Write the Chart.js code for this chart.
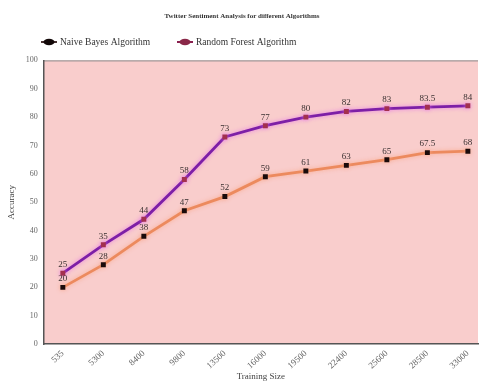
<!DOCTYPE html>
<html>
<head>
<meta charset="utf-8">
<script src="https://cdn.jsdelivr.net/npm/chart.js@4/dist/chart.umd.min.js"></script>
<style>
  html, body { margin: 0; padding: 0; background: #ffffff; }
  #wrap { width: 483px; height: 387px; position: relative; }
</style>
</head>
<body>
<div id="wrap"><canvas id="c" width="483" height="387"></canvas></div>
<script>
// Training sizes (x categories) and accuracy of each algorithm
const trainingSizes = ["535", "5300", "8400", "9800", "13500", "16000", "19500", "22400", "25600", "28500", "33000"];
const naiveBayes = [20, 28, 38, 47, 52, 59, 61, 63, 65, 67.5, 68];
const randomForest = [25, 35, 44, 58, 73, 77, 80, 82, 83, 83.5, 84];
const accuracyTicks = [0, 10, 20, 30, 40, 50, 60, 70, 80, 90, 100];

const SERIF = "'Liberation Serif', 'DejaVu Serif', serif";

// pink plotting area
const plotBackground = {
  id: 'plotBackground',
  beforeDraw(chart) {
    const { ctx, chartArea: a } = chart;
    ctx.save();
    ctx.fillStyle = '#f9cdcc';
    ctx.fillRect(a.left, a.top, a.right - a.left, a.bottom - a.top);
    ctx.strokeStyle = '#8a8a8a';
    ctx.lineWidth = 1;
    ctx.beginPath();
    ctx.moveTo(a.left, a.top + 0.5);
    ctx.lineTo(a.right, a.top + 0.5);
    ctx.stroke();
    ctx.restore();
  }
};

// legend row under the title
const legendRow = {
  id: 'legendRow',
  afterDraw(chart) {
    const { ctx } = chart;
    const items = [
      { x: 41, ds: 0, dot: '#120808', line: '#4a3434' },
      { x: 177, ds: 1, dot: '#8a2848', line: '#8a2050' }
    ];
    const y = 42;
    ctx.save();
    ctx.font = "9.5px " + SERIF;
    ctx.textBaseline = 'middle';
    items.forEach(it => {
      ctx.strokeStyle = it.line;
      ctx.lineWidth = 2;
      ctx.beginPath();
      ctx.moveTo(it.x, y);
      ctx.lineTo(it.x + 16, y);
      ctx.stroke();
      ctx.fillStyle = it.dot;
      ctx.beginPath();
      ctx.ellipse(it.x + 8, y, 5.5, 3.2, 0, 0, Math.PI * 2);
      ctx.fill();
      ctx.fillStyle = '#333333';
      ctx.fillText(chart.data.datasets[it.ds].label, it.x + 19, y);
    });
    ctx.restore();
  }
};

// value labels above each point
const valueLabels = {
  id: 'valueLabels',
  afterDatasetsDraw(chart) {
    const { ctx } = chart;
    ctx.save();
    ctx.font = "9px " + SERIF;
    ctx.fillStyle = '#3a3030';
    ctx.textAlign = 'center';
    ctx.textBaseline = 'bottom';
    chart.data.datasets.forEach((ds, di) => {
      const meta = chart.getDatasetMeta(di);
      meta.data.forEach((pt, i) => {
        ctx.fillText(String(ds.data[i].y), pt.x, pt.y - 4);
      });
    });
    ctx.restore();
  }
};

// glow under the lines
const lineGlow = {
  id: 'lineGlow',
  beforeDatasetDraw(chart, args) {
    const ctx = chart.ctx;
    ctx.save();
    ctx.shadowColor = args.index === 1 ? 'rgba(230,120,230,0.9)' : 'rgba(250,170,140,0.9)';
    ctx.shadowBlur = 4;
  },
  afterDatasetDraw(chart) {
    chart.ctx.restore();
  }
};

const toPoints = arr => arr.map((v, i) => ({ x: i, y: v }));

new Chart(document.getElementById('c'), {
  type: 'line',
  data: {
    datasets: [
      {
        label: 'Naive Bayes Algorithm',
        data: toPoints(naiveBayes),
        borderColor: '#ec8a5e',
        borderWidth: 2.8,
        pointStyle: 'rect',
        pointRadius: 3.5,
        pointBackgroundColor: '#1a0a0a',
        pointBorderColor: '#1a0a0a',
        pointBorderWidth: 0,
        tension: 0
      },
      {
        label: 'Random Forest Algorithm',
        data: toPoints(randomForest),
        borderColor: '#7d1fa6',
        borderWidth: 2.8,
        pointStyle: 'rect',
        pointRadius: 3.5,
        pointBackgroundColor: '#a3304e',
        pointBorderColor: '#a3304e',
        pointBorderWidth: 0,
        tension: 0
      }
    ]
  },
  options: {
    responsive: false,
    animation: false,
    devicePixelRatio: 1,
    layout: { padding: { left: 6, right: 5, top: 4, bottom: 3 } },
    plugins: {
      title: {
        display: true,
        text: 'Twitter Sentiment Analysis for different Algorithms',
        color: '#333333',
        font: { family: SERIF, size: 7, weight: 'bold' },
        padding: { top: 8, bottom: 40 }
      },
      legend: { display: false },
      tooltip: { enabled: false }
    },
    scales: {
      x: {
        type: 'linear',
        min: -0.47,
        max: 10.25,
        afterBuildTicks(scale) {
          scale.ticks = trainingSizes.map((_, i) => ({ value: i }));
        },
        ticks: {
          autoSkip: false,
          minRotation: 42,
          maxRotation: 42,
          color: '#666666',
          font: { family: SERIF, size: 9 },
          padding: 0,
          callback: (v) => trainingSizes[Math.round(v)]
        },
        grid: { display: false, drawTicks: true, tickLength: 4, tickColor: '#555' },
        border: { display: true, color: '#555555', width: 1.5 },
        title: {
          display: true,
          text: 'Training Size',
          color: '#444444',
          font: { family: SERIF, size: 9 },
          padding: { top: 0, bottom: 2 }
        }
      },
      y: {
        min: 0,
        max: 100,
        afterBuildTicks(scale) {
          scale.ticks = accuracyTicks.map(v => ({ value: v }));
        },
        ticks: {
          color: '#666666',
          font: { family: SERIF, size: 8 },
          padding: 3
        },
        grid: { display: false, drawTicks: true, tickLength: 3, tickColor: '#555' },
        border: { display: true, color: '#555555', width: 1.5 },
        title: {
          display: true,
          text: 'Accuracy',
          color: '#444444',
          font: { family: SERIF, size: 9 },
          padding: { top: 0, bottom: 6 }
        }
      }
    }
  },
  plugins: [plotBackground, lineGlow, valueLabels, legendRow]
});
</script>
</body>
</html>
